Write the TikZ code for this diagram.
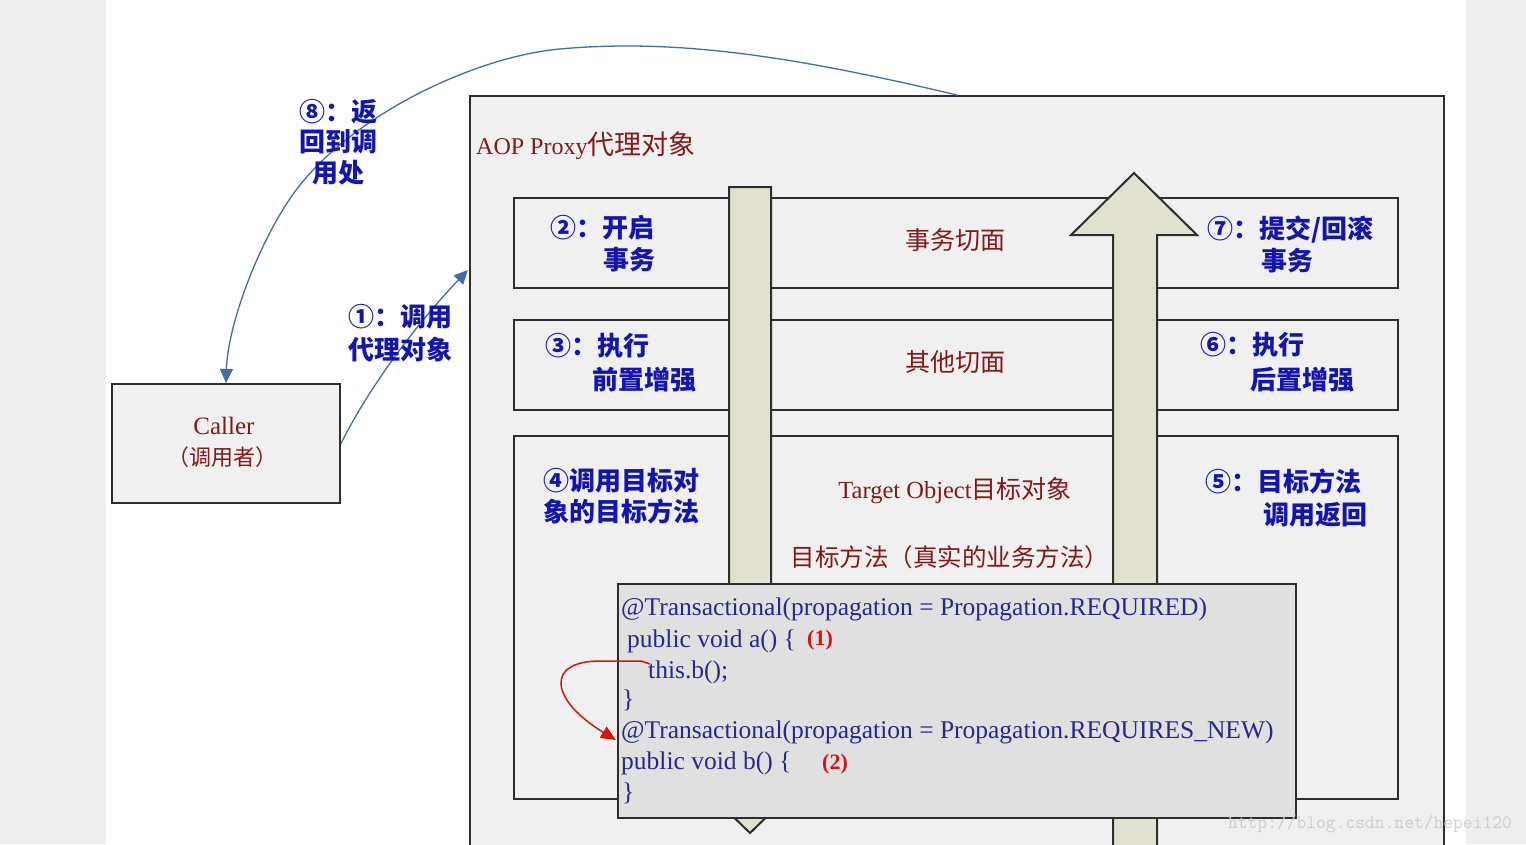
\documentclass[tikz,border=0pt]{standalone}
\usepackage{fontspec}
\setmainfont{Liberation Serif}
\newfontfamily\cjk{Noto Sans CJK SC}
\usetikzlibrary{arrows.meta}
\definecolor{lblue}{RGB}{20,20,175}
\definecolor{dred}{RGB}{130,25,25}
\definecolor{codeblue}{RGB}{40,40,140}
\definecolor{mred}{RGB}{210,20,20}
\definecolor{curveblue}{RGB}{70,105,175}
\definecolor{edge}{RGB}{45,45,45}
\definecolor{panel}{RGB}{240,240,240}
\definecolor{codefill}{RGB}{224,224,224}
\definecolor{barfill}{RGB}{225,225,210}
\definecolor{sidegray}{RGB}{238,238,238}
\definecolor{wmgray}{RGB}{205,205,205}
\begin{document}
\begin{tikzpicture}[x=1pt,y=-1pt,
  box/.style={draw=edge, line width=2pt, fill=panel, rectangle, inner sep=0pt, anchor=north west},
  steplabel/.style={text=lblue, align=left, anchor=west, inner sep=0pt},
  redtext/.style={text=dred, inner sep=0pt, font=\cjk\fontsize{25}{30}\selectfont},
  codeline/.style={text=codeblue, anchor=base west, inner sep=0pt, font=\fontsize{25.5}{30}\selectfont},
  redmark/.style={text=mred, anchor=base west, inner sep=0pt, font=\bfseries\fontsize{22}{26}\selectfont},
  flow/.style={draw=curveblue, line width=1.3pt, -{Triangle[width=13pt,length=14pt]}},
  redflow/.style={draw=mred, line width=1.5pt, line join=round, -{Triangle[width=13pt,length=15pt]}},
  bar/.style={draw=edge, line width=2pt, fill=barfill, line join=miter},
]
\useasboundingbox (0,0) rectangle (1526,844);
\clip (0,0) rectangle (1526,844);
\fill[white] (0,0) rectangle (1526,844);
\fill[sidegray] (0,0) rectangle (106,844);
\fill[sidegray] (1466,0) rectangle (1526,844);

% proxy
\node[box, minimum width=974pt, minimum height=800pt] (proxy) at (469,95) {};
\node[text=dred, anchor=west, inner sep=0pt, font=\fontsize{24}{28}\selectfont] (proxytitle) at (476,146) {AOP Proxy{\cjk\fontsize{27}{30}\selectfont 代理对象}};

% bands
\node[box, minimum width=884pt, minimum height=90pt] (band1) at (513,197) {};
\node[box, minimum width=884pt, minimum height=90pt] (band2) at (513,319) {};
\node[box, minimum width=884pt, minimum height=363pt] (band3) at (513,435) {};

\node[redtext] (aspect1) at (955,240) {事务切面};
\node[redtext] (aspect2) at (955,362) {其他切面};
\node[redtext] (target) at (955,491) {{\rmfamily\fontsize{24.5}{28}\selectfont Target Object}目标对象};
\node[redtext, font=\cjk\fontsize{24.5}{30}\selectfont] (tmethod) at (950,557) {目标方法（真实的业务方法）};

% bars
\draw[bar] (729,187) -- (771,187) -- (771,771) -- (814,771) -- (750,833) -- (686,771) -- (729,771) -- cycle;
\draw[bar] (1113,880) -- (1113,235) -- (1071,235) -- (1134,173) -- (1197,235) -- (1157,235) -- (1157,880) -- cycle;

% step labels
\node[steplabel, font=\cjk\bfseries\fontsize{26}{32}\selectfont] (s2) at (550,244) {②：开启\\\hspace*{53pt}事务};
\node[steplabel, font=\cjk\bfseries\fontsize{26}{32}\selectfont] (s7) at (1207,244) {⑦：提交/回滚\\\hspace*{54pt}事务};
\node[steplabel, font=\cjk\bfseries\fontsize{26}{34}\selectfont] (s3) at (545,363) {③：执行\\\hspace*{47pt}前置增强};
\node[steplabel, font=\cjk\bfseries\fontsize{26}{35}\selectfont] (s6) at (1200,362) {⑥：执行\\\hspace*{50pt}后置增强};
\node[steplabel, font=\cjk\bfseries\fontsize{26}{31}\selectfont] (s4) at (543,496) {④调用目标对\\象的目标方法};
\node[steplabel, font=\cjk\bfseries\fontsize{26}{33}\selectfont] (s5) at (1205,498) {⑤：目标方法\\\hspace*{58pt}调用返回};

% code box
\node[box, fill=codefill, minimum width=678pt, minimum height=234pt] (code) at (617,583) {};
\node[codeline] (c1) at (621,615) {@Transactional(propagation = Propagation.REQUIRED)};
\node[codeline] (c2) at (627,647) {public void a() \{};
\node[redmark] (m1) at (807,645) {(1)};
\node[codeline] (c3) at (648,678) {this.b();};
\node[codeline] (c4) at (622,707) {\}};
\node[codeline] (c5) at (621,738) {@Transactional(propagation = Propagation.REQUIRES\_NEW)};
\node[codeline] (c6) at (621,769) {public void b() \{};
\node[redmark] (m2) at (822,769) {(2)};
\node[codeline] (c7) at (622,800) {\}};

\coordinate (callstart) at (650,664);
\coordinate (callend) at (616,740);
\draw[redflow] (callstart) -- (641,661) -- (600,661) .. controls (545,661) and (550,700) .. (callend);

% caller
\node[box, minimum width=228pt, minimum height=119pt] (caller) at (111,383) {};
\node[text=dred, inner sep=0pt, font=\fontsize{25}{28}\selectfont] (callername) at (224,426) {Caller};
\node[redtext, font=\cjk\fontsize{22}{28}\selectfont] (callercn) at (222,457) {（调用者）};

% flows
\coordinate (proxyin) at (468,270);
\draw[flow] (caller.east) .. controls (370,385) and (420,320) .. (proxyin);
\draw[flow] (proxy.north) .. controls (800,58) and (680,38) .. (560,49) .. controls (480,56) and (360,110) .. (300,185) .. controls (264,230) and (228,320) .. (caller.north);

\node[steplabel, align=center, anchor=center, font=\cjk\bfseries\fontsize{26}{30.5}\selectfont] (s8) at (338,142) {⑧：返\\回到调\\用处};
\node[steplabel, font=\cjk\bfseries\fontsize{26}{33}\selectfont] (s1) at (348,333) {①：调用\\代理对象};

\node[text=wmgray, inner sep=0pt, font=\ttfamily\fontsize{19}{22}\selectfont] (wm) at (1370,824) {http://blog.csdn.net/hepei120};
\end{tikzpicture}
\end{document}
